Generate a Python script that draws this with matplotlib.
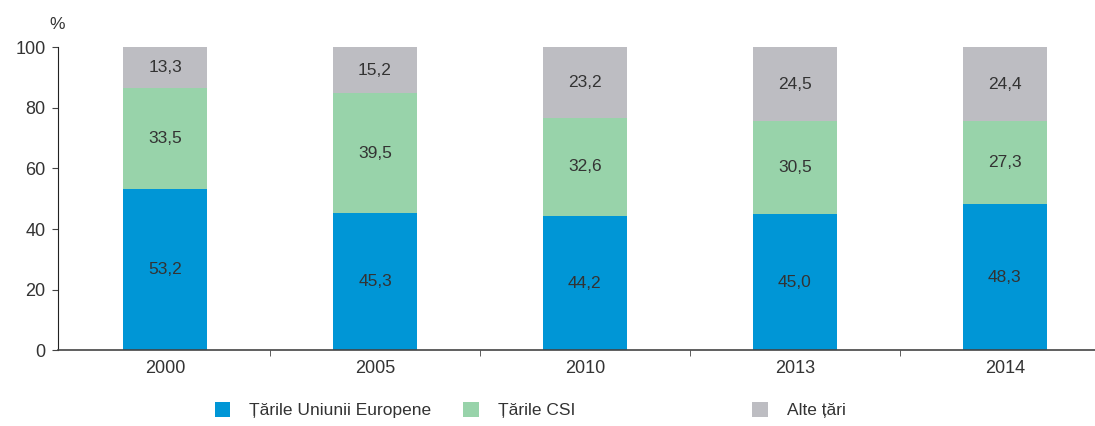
import matplotlib
matplotlib.use("Agg")
import matplotlib.pyplot as plt
import numpy as np
from matplotlib.patches import Patch

plt.rcParams["font.family"] = ["Liberation Sans", "DejaVu Sans"]

years = ["2000", "2005", "2010", "2013", "2014"]
eu = [53.2, 45.3, 44.2, 45.0, 48.3]
csi = [33.5, 39.5, 32.6, 30.5, 27.3]
other = [13.3, 15.2, 23.2, 24.5, 24.4]

labels = ["Țările Uniunii Europene", "Țările CSI", "Alte țări"]
colors = ["#0096D6", "#98D3AA", "#BDBDC2"]

fig = plt.figure(figsize=(10.95, 4.26), dpi=100)
ax = fig.add_axes([0.053, 0.178, 0.947, 0.711])

x = np.arange(len(years))
w = 0.4
bottom = np.zeros(len(years))
for vals, col in zip([eu, csi, other], colors):
    ax.bar(x, vals, w, bottom=bottom, color=col, edgecolor="none")
    for xi, b, v in zip(x, bottom, vals):
        ax.text(xi, b + v / 2, f"{v:.1f}".replace(".", ","), ha="center",
                va="center", fontsize=12.5, color="#333333")
    bottom += np.array(vals)

ax.set_xlim(-0.51, 4.43)
ax.set_ylim(0, 100)
ax.set_yticks(range(0, 101, 20))
ax.set_xticks(x)
ax.set_xticklabels(years)
ax.set_xticks(x[:-1] + 0.5, minor=True)
ax.tick_params(axis="x", which="major", length=0, pad=7, labelsize=13, labelcolor="#333333")
ax.tick_params(axis="x", which="minor", length=4, direction="out", color="#444444")
ax.tick_params(axis="y", length=4, direction="out", pad=5, labelsize=13, labelcolor="#333333", color="#444444")
for s in ["top", "right"]:
    ax.spines[s].set_visible(False)
ax.spines["left"].set_color("#222222")
ax.spines["bottom"].set_color("#444444")
ax.spines["bottom"].set_linewidth(1.2)

fig.text(0.045, 0.933, "%", fontsize=12.5, color="#333333")

# legend items placed individually (uneven spacing in the original)
for lab, col, xpos in zip(labels, colors, [0.196, 0.423, 0.687]):
    fig.legend([Patch(facecolor=col, edgecolor="none")], [lab], loc="center left",
               bbox_to_anchor=(xpos, 0.037), frameon=False, fontsize=12.5,
               handlelength=0.9, handleheight=0.9, handletextpad=1.1,
               borderpad=0, borderaxespad=0, labelcolor="#333333")

fig.savefig("out.png", dpi=100)
